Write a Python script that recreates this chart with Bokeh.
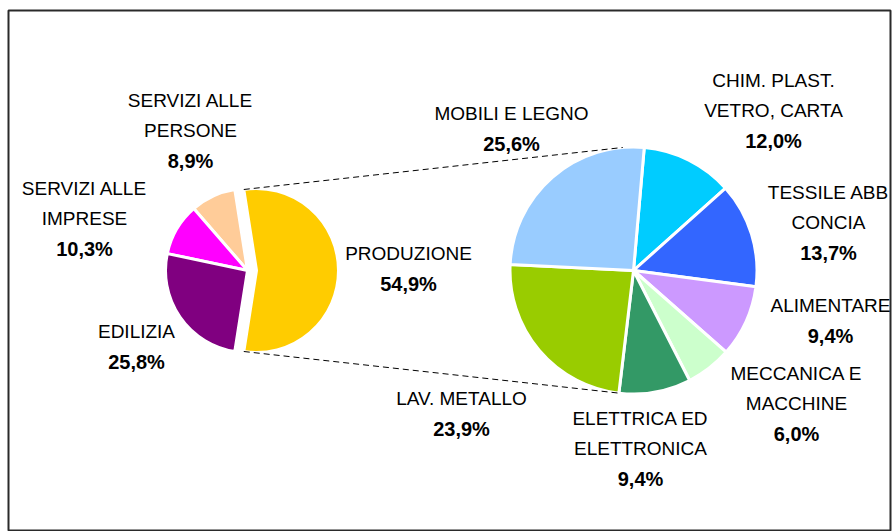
import numpy as np
from bokeh.plotting import figure
from bokeh.models import Range1d
from bokeh.core.properties import value
from bokeh.embed import file_html
from bokeh.resources import INLINE

# ---- data ----
main_labels = ["PRODUZIONE", "SERVIZI ALLE\nPERSONE", "SERVIZI ALLE\nIMPRESE", "EDILIZIA"]
main_values = [54.9, 8.9, 10.3, 25.8]
main_colors = ["#FFCC00", "#FFCC99", "#FF00FF", "#800080"]

sub_labels = ["CHIM. PLAST.\nVETRO, CARTA", "TESSILE ABB\nCONCIA", "ALIMENTARE",
              "MECCANICA E\nMACCHINE", "ELETTRICA ED\nELETTRONICA", "LAV. METALLO",
              "MOBILI E LEGNO"]
sub_values = [12.0, 13.7, 9.4, 6.0, 9.4, 23.9, 25.6]
sub_colors = ["#00CCFF", "#3366FF", "#CC99FF", "#CCFFCC", "#339966", "#99CC00", "#99CCFF"]

# ---- layout (page pixel coordinates, y downward) ----
W, H = 894, 531
C1 = (247.0, 270.0)      # main pie centre
R1 = 82.0
EXPLODE = 9.0            # offset of the split slice
C2 = (633.0, 270.0)      # secondary pie centre
R2 = 123.5
SUB_START = 85.0         # degrees, secondary pie drawn clockwise from here
LINE_H = 30.0
main_label_off = [(161, -17), (-57, -170), (-163, -82), (-111, 61)]
sub_label_off = [(140, -190), (195, -78), (197, 35), (163, 103), (7, 148), (-172, 128), (-122, -157)]

def Y(py):
    return 531.0 - py

p = figure(width=W, height=H, output_backend="svg", toolbar_location=None,
           x_axis_type=None, y_axis_type=None,
           x_range=Range1d(8, 890), y_range=Range1d(0, 521),
           min_border=0, min_border_left=8, min_border_top=10, min_border_right=4)
p.grid.visible = False
p.outline_line_color = "#2a2a2a"
p.outline_line_width = 2
p.background_fill_color = "white"
p.border_fill_color = "white"

# ---- main pie ----
tot1 = sum(main_values)
ang1 = [v / tot1 * 2 * np.pi for v in main_values]
half = ang1[0] / 2
starts1, ends1 = [], []
a = -half
for g in ang1:
    starts1.append(a)
    ends1.append(a + g)
    a += g
cx1 = [C1[0] + (EXPLODE if i == 0 else 0) for i in range(len(main_values))]
cy1 = [Y(C1[1])] * len(main_values)
p.wedge(x=cx1, y=cy1, radius=R1, start_angle=starts1, end_angle=ends1,
        fill_color=main_colors, line_color="white", line_width=3)

# ---- secondary pie (clockwise) ----
tot2 = sum(sub_values)
ang2 = [v / tot2 * 2 * np.pi for v in sub_values]
starts2, ends2 = [], []
a = np.deg2rad(SUB_START)
for g in ang2:
    ends2.append(a)
    starts2.append(a - g)
    a -= g
p.wedge(x=[C2[0]] * len(sub_values), y=[Y(C2[1])] * len(sub_values), radius=R2,
        start_angle=starts2, end_angle=ends2,
        fill_color=sub_colors, line_color="white", line_width=3)

# ---- connector lines ----
top_a, bot_a = ends1[0], starts1[0]
conn_right_top = np.deg2rad(95.0)
conn_right_bot = np.deg2rad(-97.0)
for a1, a2 in [(top_a, conn_right_top), (bot_a, conn_right_bot)]:
    x0 = cx1[0] + R1 * np.cos(a1)
    y0 = Y(C1[1]) + R1 * np.sin(a1)
    x1 = C2[0] + R2 * np.cos(a2)
    y1 = Y(C2[1]) + R2 * np.sin(a2)
    p.line([x0, x1], [y0, y1], line_color="black", line_width=1, line_dash="6 4")

# ---- labels ----
nx, ny, nt = [], [], []
px, py, pt = [], [], []
def add_labels(labels, values, offs, centre):
    for lab, v, (dx, dy) in zip(labels, values, offs):
        lines = lab.split("\n")
        x = centre[0] + dx
        y0 = centre[1] + dy
        for i, ln in enumerate(lines):
            nx.append(x); ny.append(Y(y0 + i * LINE_H)); nt.append(ln)
        px.append(x); py.append(Y(y0 + len(lines) * LINE_H))
        pt.append(("%.1f%%" % v).replace(".", ","))

add_labels(main_labels, main_values, main_label_off, C1)
add_labels(sub_labels, sub_values, sub_label_off, C2)

p.text(x=nx, y=ny, text=nt, text_align="center", text_baseline="middle",
       text_font=value("Liberation Sans"), text_font_size="19px", text_color="black")
p.text(x=px, y=py, text=pt, text_align="center", text_baseline="middle",
       text_font=value("Liberation Sans"), text_font_size="20px",
       text_font_style="bold", text_color="black")

open("out.html", "w").write(file_html(p, INLINE))
